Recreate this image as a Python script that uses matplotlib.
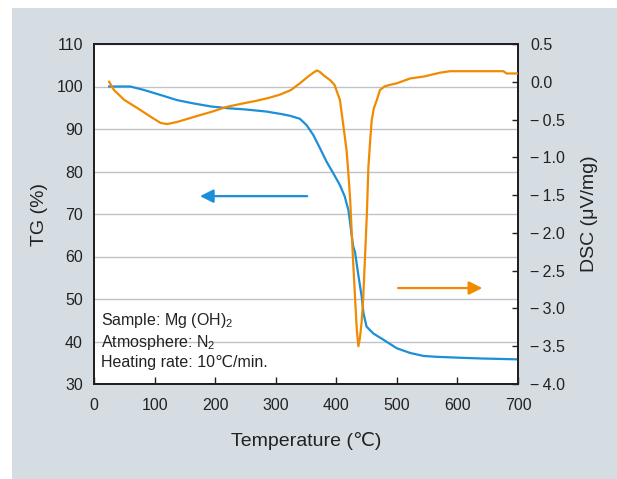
import matplotlib
matplotlib.use("Agg")
import matplotlib.pyplot as plt
from matplotlib.patches import Rectangle

plt.rcParams['font.family'] = ['Liberation Sans', 'DejaVu Sans']
plt.rcParams['mathtext.fontset'] = 'custom'
plt.rcParams['mathtext.rm'] = 'Liberation Sans'
plt.rcParams['mathtext.default'] = 'regular'

# TG curve (left axis)
tg_temp = [25, 40, 60, 82, 110, 137, 165, 193, 220, 250, 285, 310, 324, 340, 351, 362, 373, 384,
           395, 406, 414, 420, 423, 425, 428, 431, 436, 442, 445, 450, 461, 478, 500, 522, 544,
           565, 600, 640, 670, 698]
tg_vals = [100, 100, 100, 99.2, 98.0, 96.8, 96.0, 95.3, 94.9, 94.6, 94.1, 93.5, 93.1, 92.4, 90.9,
           88.6, 85.5, 82.3, 79.6, 76.8, 74.1, 70.9, 67.8, 65.4, 62.3, 61.0, 56.0, 50.5, 46.6,
           43.5, 41.9, 40.4, 38.4, 37.3, 36.6, 36.4, 36.2, 36.0, 35.9, 35.8]

# DSC curve (right axis)
dsc_temp = [25, 33, 50, 72, 94, 110, 121, 138, 165, 193, 220, 250, 269, 290, 307, 325, 340, 352,
            362, 368, 373, 380, 390, 397, 406, 412, 417, 420, 423, 425.5, 428, 431, 434, 436.5,
            439, 442, 444.5, 447.5, 450.5, 453, 456, 458.5, 462, 467, 472, 480, 489, 500, 522,
            545, 571, 588, 630, 676, 681, 698]
dsc_vals = [0.0, -0.11, -0.24, -0.35, -0.465, -0.545, -0.56, -0.53, -0.465, -0.40, -0.33, -0.28,
            -0.25, -0.21, -0.17, -0.11, -0.02, 0.06, 0.12, 0.15, 0.13, 0.08, 0.02, -0.04, -0.24,
            -0.60, -0.91, -1.22, -1.57, -2.0, -2.41, -2.86, -3.30, -3.50, -3.39, -3.17, -2.86,
            -2.3, -1.75, -1.13, -0.77, -0.51, -0.35, -0.24, -0.11, -0.06, -0.04, -0.02, 0.044,
            0.07, 0.12, 0.14, 0.14, 0.14, 0.11, 0.11]

x_ticks = [0, 100, 200, 300, 400, 500, 600, 700]
tg_ticks = [30, 40, 50, 60, 70, 80, 90, 100, 110]
dsc_ticks = [-4.0, -3.5, -3.0, -2.5, -2.0, -1.5, -1.0, -0.5, 0.0, 0.5]

blue = '#1b8fd8'
orange = '#f18a00'
dark = '#231f20'
txt = '#222222'

fig = plt.figure(figsize=(6.17, 4.79), dpi=100, facecolor='white')
fig.patches.append(Rectangle((12/617, 0), 605/617, 471/479, transform=fig.transFigure,
                             facecolor='#d5dde3', edgecolor='none', zorder=-10))

ax = fig.add_axes([94/617, 1-384/479, 424/617, 340/479])
ax.set_facecolor('white')
ax2 = ax.twinx()

ax.set_xlim(0, 700)
ax.set_ylim(30, 110)
ax2.set_ylim(-4.0, 0.5)

ax.grid(axis='y', color='#bfc3c8', lw=1.0)
ax.set_axisbelow(True)

ax.plot(tg_temp, tg_vals, color=blue, lw=1.6, zorder=3)
ax2.plot(dsc_temp, dsc_vals, color=orange, lw=1.6, zorder=3)

ax.set_xticks(x_ticks)
ax.set_yticks(tg_ticks)
ax2.set_yticks(dsc_ticks)
ax2.set_yticklabels([f'{v:.1f}'.replace('-', '\u2212\u2009') for v in dsc_ticks])

ax.tick_params(axis='x', direction='in', length=5, width=1, color=dark, labelsize=11.5,
               labelcolor=txt, pad=10)
ax.tick_params(axis='y', length=0, labelsize=11.5, labelcolor=txt, pad=8)
ax2.tick_params(axis='y', direction='in', length=4, width=1, color=dark, labelsize=11.5,
                labelcolor=txt, pad=9)

for a in (ax, ax2):
    for s in a.spines.values():
        s.set_color(dark)
        s.set_linewidth(1.3)

ax.set_xlabel('Temperature (\u2103)', fontsize=14, color=txt)
ax.set_ylabel('TG (%)', fontsize=14, color=txt)
ax2.set_ylabel('DSC (\u03bcV/mg)', fontsize=14, color=txt)
ax.xaxis.set_label_coords((306-94)/424, (384-441)/340)
ax.xaxis.label.set_va('center')
ax.yaxis.set_label_coords((40-94)/424, 0.5)
ax.yaxis.label.set_va('center')
ax2.yaxis.set_label_coords((590-94)/424, 0.5)
ax2.yaxis.label.set_va('center')

ax.annotate('', xy=(175, 74.2), xytext=(352, 74.2),
            arrowprops=dict(arrowstyle='-|>', color=blue, lw=1.6, mutation_scale=20,
                            shrinkA=0, shrinkB=0), zorder=4)
ax2.annotate('', xy=(641, -2.73), xytext=(502, -2.73),
             arrowprops=dict(arrowstyle='-|>', color=orange, lw=1.6, mutation_scale=20,
                             shrinkA=0, shrinkB=0), zorder=4)

tx = (101-94)/424
ax.text(tx, (384-325)/340, 'Sample: Mg (OH)$_2$', transform=ax.transAxes, fontsize=11.5,
        color=txt, va='baseline', ha='left', zorder=5)
ax.text(tx, (384-347)/340, 'Atmosphere: N$_2$', transform=ax.transAxes, fontsize=11.5,
        color=txt, va='baseline', ha='left', zorder=5)
ax.text(tx, (384-367)/340, 'Heating rate: 10\u2103/min.', transform=ax.transAxes, fontsize=11.5,
        color=txt, va='baseline', ha='left', zorder=5)

fig.savefig('out.png', dpi=100, facecolor='white')
